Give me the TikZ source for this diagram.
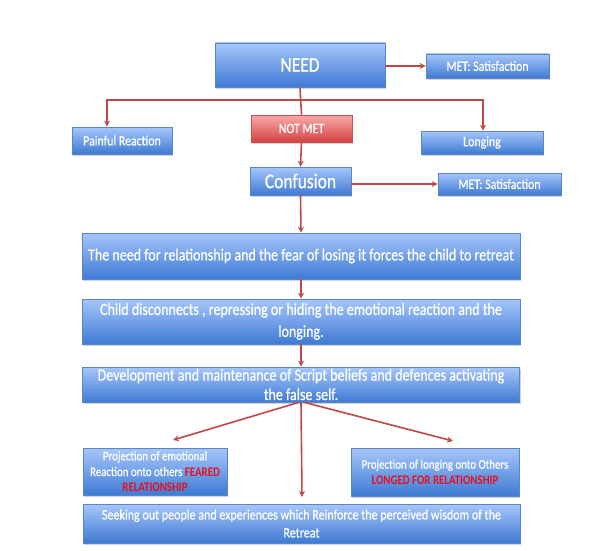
\documentclass[tikz,border=0pt]{standalone}
\usepackage{fontspec}
\setmainfont[FakeStretch=0.83, UprightFeatures={FakeBold=0.6}]{Carlito}
\usetikzlibrary{shadows,arrows.meta}
\definecolor{btop}{HTML}{A6C6FA}
\definecolor{bbot}{HTML}{3F7AD4}
\definecolor{bdr}{HTML}{5A86C8}
\definecolor{rtop}{HTML}{FAAAAA}
\definecolor{rbot}{HTML}{D44242}
\definecolor{rdr}{HTML}{C85050}
\definecolor{arr}{HTML}{BE4846}
\definecolor{redtxt}{HTML}{E8101C}
\tikzset{
  bbox/.style={rectangle, inner sep=0pt, align=center, text=white,
    top color=btop, bottom color=bbot, draw=bdr, line width=0.6pt,
    drop shadow={shadow xshift=1.2pt, shadow yshift=-1.5pt, opacity=0.35}},
  rbox/.style={bbox, top color=rtop, bottom color=rbot, draw=rdr},
  con/.style={draw=arr, line width=1.6pt},
  arw/.style={con, -{Stealth[length=6pt,width=6pt]}},
  big/.style={font=\fontsize{21}{24}\selectfont},
  small/.style={font=\fontsize{14.3}{16}\selectfont},
}
\begin{document}
\begin{tikzpicture}[x=1pt,y=-1pt]
\useasboundingbox (0,0) rectangle (602,551);
\node[bbox, big, minimum width=170, minimum height=44] (need) at (300,65) {NEED};
\node[bbox, small, minimum width=123, minimum height=24] (met1) at (487.5,66) {MET: Satisfaction};
\node[bbox, small, minimum width=100, minimum height=27] (painful) at (122,140.5) {Painful Reaction};
\node[rbox, small, minimum width=101, minimum height=27] (notmet) at (301.5,128.5) {NOT MET};
\node[bbox, small, minimum width=122, minimum height=23] (longing) at (482,142.5) {Longing};
\node[bbox, big, minimum width=101, minimum height=28] (confusion) at (300.5,181) {Confusion};
\node[bbox, small, minimum width=123, minimum height=22] (met2) at (499.5,184) {MET: Satisfaction};
\node[bbox, font=\fontsize{16.9}{22}\selectfont, minimum width=438, minimum height=46] (b1) at (301,256) {The need for relationship and the fear of losing it forces the child to retreat};
\node[bbox, font=\fontsize{16.9}{22}\selectfont, minimum width=438, minimum height=45] (b2) at (301,321.5) {Child disconnects , repressing or hiding the emotional reaction and the\\ longing.};
\node[bbox, font=\fontsize{16.9}{19.5}\selectfont, minimum width=437, minimum height=35] (b3) at (301,384.5) {Development and maintenance of Script beliefs and defences activating\\ the false self.};
\node[bbox, font=\fontsize{13.1}{15.7}\selectfont, minimum width=144, minimum height=47] (pl) at (155,471.5) {Projection of emotional\\ Reaction onto others \textcolor{redtxt}{\bfseries FEARED}\\ \textcolor{redtxt}{\bfseries RELATIONSHIP}};
\node[bbox, font=\fontsize{13.1}{15.7}\selectfont, minimum width=168, minimum height=48] (pr) at (435,472) {Projection of longing onto Others\\ \textcolor{redtxt}{\bfseries LONGED FOR RELATIONSHIP}};
\node[bbox, font=\fontsize{14.5}{18}\selectfont, minimum width=437, minimum height=39] (b4) at (301.5,523.5) {Seeking out people and experiences which Reinforce the perceived wisdom of the\\ Retreat};
% connectors
\coordinate (split) at (300,100);
\coordinate (lc) at (107,100);
\coordinate (rc) at (483,100);
\draw[arw] (need.east |- met1.west) -- (met1.west);
\draw[con] (need.south) -- (notmet.north);
\draw[arw] (split) -- (lc) -- (lc |- painful.north);
\draw[arw] (split) -- (rc) -- (rc |- longing.north);
\draw[arw] (notmet.south) -- (confusion.north);
\draw[arw] (confusion.east |- met2.west) -- (met2.west);
\draw[arw] (confusion.south) -- (b1.north);
\draw[arw] (b1.south) -- (b2.north);
\draw[arw] (b2.south) -- (b3.north);
\coordinate (tl) at (173,440);
\coordinate (tr) at (453,441);
\coordinate (tm) at (302,497);
\draw[arw] ([xshift=-2pt]b3.south) -- (tl);
\draw[arw] ([xshift=3pt]b3.south) -- (tr);
\draw[arw] (b3.south) -- (tm);
\end{tikzpicture}
\end{document}
